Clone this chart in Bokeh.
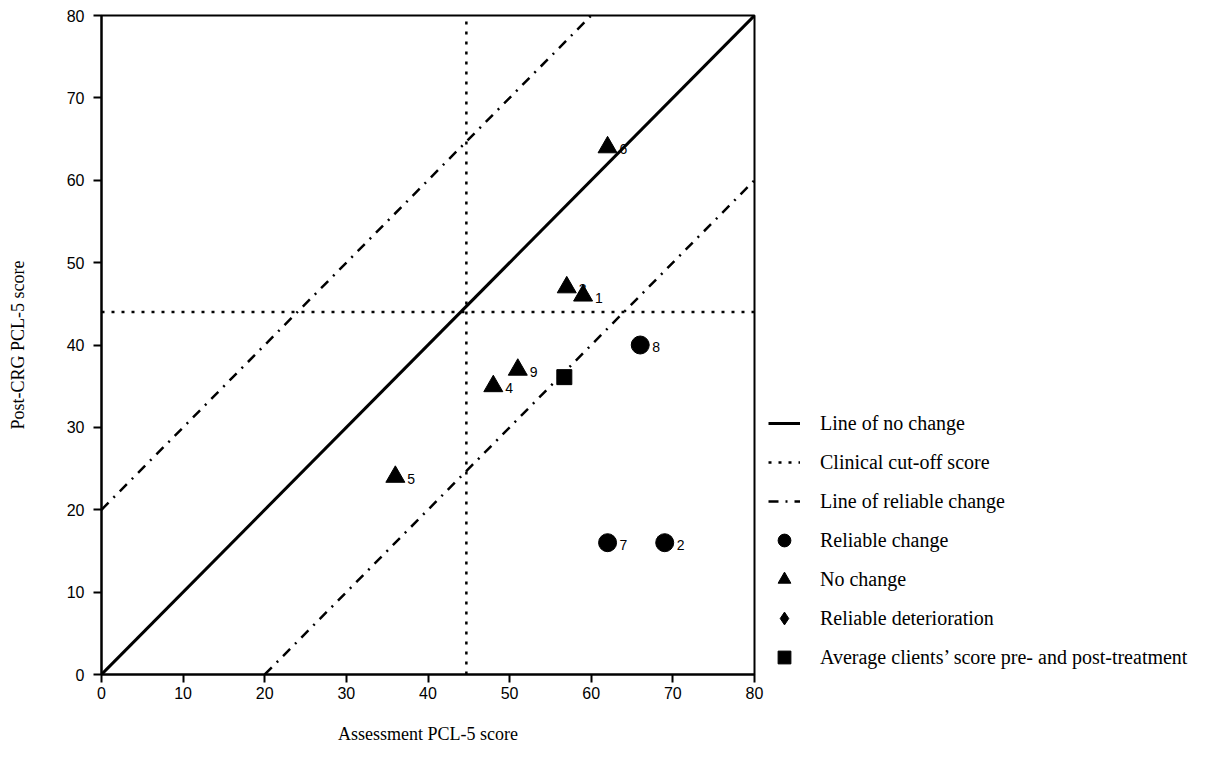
from bokeh.plotting import figure
from bokeh.models import Range1d, FixedTicker, Legend, LegendItem, ColumnDataSource
from bokeh.core.properties import value
from bokeh.embed import file_html
from bokeh.resources import INLINE

# ---- data ----
client_ids = ["1", "2", "3", "4", "5", "6", "7", "8", "9"]
pre_scores = [59, 69, 57, 48, 36, 62, 62, 66, 51]
post_scores = [46, 16, 47, 35, 24, 64, 16, 40, 37]
outcome = ["No change", "Reliable change", "No change", "No change", "No change",
           "No change", "Reliable change", "Reliable change", "No change"]
avg_pre = [56.7]
avg_post = [36.1]
cutoff_pre = 44.7
cutoff_post = 44
reliable_change = 20
axis_min, axis_max = 0, 80
ticks = [0, 10, 20, 30, 40, 50, 60, 70, 80]

p = figure(frame_width=653, frame_height=659,
           min_border_left=101, min_border_top=15, min_border_bottom=84, min_border_right=436,
           x_range=Range1d(axis_min, axis_max), y_range=Range1d(axis_min, axis_max),
           output_backend="svg", toolbar_location=None)
p.grid.visible = False
p.outline_line_color = "black"
p.outline_line_width = 2
p.background_fill_color = "white"
p.border_fill_color = "white"

for ax in (p.xaxis[0], p.yaxis[0]):
    ax.ticker = FixedTicker(ticks=ticks)
    ax.axis_line_width = 2
    ax.major_tick_line_width = 2
    ax.major_tick_out = 8
    ax.major_tick_in = 0
    ax.minor_tick_line_color = None
    ax.major_label_text_font = "Liberation Sans"
    ax.major_label_text_font_size = "16px"
    ax.major_label_text_color = "black"
    ax.axis_label_text_font = "Liberation Serif"
    ax.axis_label_text_font_size = "18px"
    ax.axis_label_text_font_style = "normal"
    ax.axis_label_text_color = "black"

p.xaxis.axis_label = "Assessment PCL-5 score"
p.yaxis.axis_label = "Post-CRG PCL-5 score"
p.xaxis.major_label_standoff = 4
p.yaxis.major_label_standoff = 9
p.xaxis.axis_label_standoff = 22
p.yaxis.axis_label_standoff = 36

# lines
r_nochange = p.line([axis_min, axis_max], [axis_min, axis_max], line_color="black", line_width=3)
r_cutoff = p.multi_line(xs=[[axis_min, axis_max], [cutoff_pre, cutoff_pre]],
                        ys=[[cutoff_post, cutoff_post], [axis_min, axis_max]],
                        line_color="black", line_width=2.5, line_dash="3 7")
rc = reliable_change
r_rc = p.multi_line(xs=[[axis_min, axis_max - rc], [axis_min + rc, axis_max]],
                    ys=[[axis_min + rc, axis_max], [axis_min, axis_max - rc]],
                    line_color="black", line_width=2.5, line_dash="10 7 2 7")

src = ColumnDataSource(dict(x=pre_scores, y=post_scores, label=client_ids, outcome=outcome))
p.text(x="x", y="y", text="label", source=src, x_offset=12, y_offset=2,
       text_font=value("Liberation Sans"), text_font_size="14px", text_baseline="middle",
       text_color="black")

rc_idx = [i for i, o in enumerate(outcome) if o == "Reliable change"]
nc_idx = [i for i, o in enumerate(outcome) if o == "No change"]
det_idx = [i for i, o in enumerate(outcome) if o == "Reliable deterioration"]
det_x = [pre_scores[i] for i in det_idx] or [float("nan")]
det_y = [post_scores[i] for i in det_idx] or [float("nan")]

r_circ = p.scatter([pre_scores[i] for i in rc_idx], [post_scores[i] for i in rc_idx],
                   marker="circle", size=18, color="black")
r_tri = p.scatter([pre_scores[i] for i in nc_idx], [post_scores[i] for i in nc_idx],
                  marker="triangle", size=19, color="black")
r_dia = p.scatter(det_x, det_y, marker="diamond", size=18, color="black")
r_sq = p.scatter(avg_pre, avg_post, marker="square", size=15, color="black")

legend = Legend(items=[
    LegendItem(label="Line of no change", renderers=[r_nochange]),
    LegendItem(label="Clinical cut-off score", renderers=[r_cutoff]),
    LegendItem(label="Line of reliable change", renderers=[r_rc]),
    LegendItem(label="Reliable change", renderers=[r_circ]),
    LegendItem(label="No change", renderers=[r_tri]),
    LegendItem(label="Reliable deterioration", renderers=[r_dia]),
    LegendItem(label="Average clients\u2019 score pre- and post-treatment", renderers=[r_sq]),
], location=(14, 0))
legend.margin = 0
legend.padding = 0
legend.border_line_color = None
legend.background_fill_alpha = 0
legend.glyph_width = 32
legend.glyph_height = 34
legend.spacing = 5
legend.label_standoff = 20
legend.label_text_font = "Liberation Serif"
legend.label_text_font_size = "20px"
legend.label_text_color = "black"
p.add_layout(legend, "right")

open("out.html", "w").write(file_html(p, INLINE))
